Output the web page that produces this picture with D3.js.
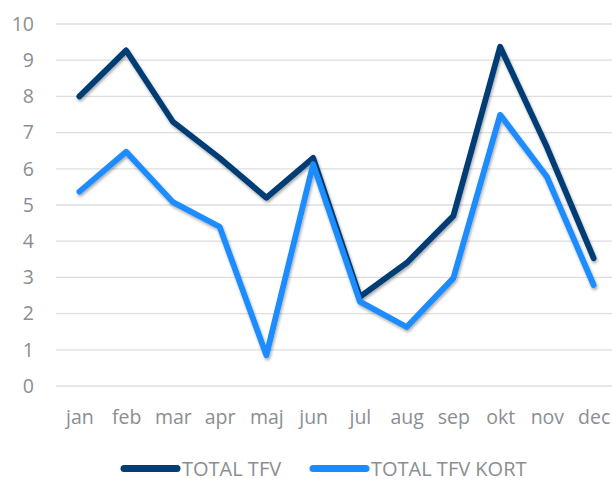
<!DOCTYPE html>
<html>
<head>
<meta charset="utf-8">
<script src="https://cdn.jsdelivr.net/npm/d3@7"></script>
<style>
  body { margin: 0; background: #fff; }
  svg { display: block; }
</style>
</head>
<body>
<div id="chart"></div>
<script>
const months = ["jan", "feb", "mar", "apr", "maj", "jun", "jul", "aug", "sep", "okt", "nov", "dec"];
const totalTfv = [8.0, 9.27, 7.3, 6.3, 5.2, 6.3, 2.46, 3.4, 4.7, 9.37, 6.6, 3.53];
const totalTfvKort = [5.37, 6.47, 5.08, 4.4, 0.85, 6.13, 2.33, 1.63, 2.98, 7.49, 5.78, 2.79];
const yTicks = [0, 1, 2, 3, 4, 5, 6, 7, 8, 9, 10];
const seriesNames = ["TOTAL TFV", "TOTAL TFV KORT"];
const seriesColors = ["#033d75", "#1a8cff"];

const width = 612, height = 481;
const margin = { top: 24, left: 56, bottom: 95 };
const plotW = 561; // runs off the right edge like the source
const plotH = height - margin.top - margin.bottom;
const labelFont = "'Open Sans', sans-serif";
const labelColor = "#8b8e92";

const svg = d3.select("#chart")
  .append("svg")
  .attr("width", width)
  .attr("height", height);

const defs = svg.append("defs");
const shadow = defs.append("filter")
  .attr("id", "shadow")
  .attr("x", "-10%").attr("y", "-10%")
  .attr("width", "120%").attr("height", "130%");
shadow.append("feDropShadow")
  .attr("dx", 1).attr("dy", 2)
  .attr("stdDeviation", 1.6)
  .attr("flood-color", "#000")
  .attr("flood-opacity", 0.35);

const x = d3.scalePoint()
  .domain(months)
  .range([margin.left, margin.left + plotW])
  .padding(0.5);

const y = d3.scaleLinear()
  .domain([0, 10])
  .range([margin.top + plotH, margin.top]);

// gridlines
svg.append("g")
  .selectAll("line")
  .data(yTicks)
  .join("line")
  .attr("x1", margin.left)
  .attr("x2", margin.left + plotW)
  .attr("y1", (d) => y(d))
  .attr("y2", (d) => y(d))
  .attr("stroke", "#dedede")
  .attr("stroke-width", 1.3);

// y axis labels
const yAxis = svg.append("g")
  .attr("transform", `translate(${margin.left - 22},0)`)
  .call(d3.axisLeft(y).tickValues(yTicks).tickSize(0).tickPadding(0));
yAxis.select(".domain").remove();
yAxis.selectAll("text")
  .attr("font-family", labelFont)
  .attr("font-size", 19.5)
  .attr("fill", labelColor);

// x axis labels
const xAxis = svg.append("g")
  .attr("transform", `translate(0,${margin.top + plotH + 24})`)
  .call(d3.axisBottom(x).tickSize(0).tickPadding(0));
xAxis.select(".domain").remove();
xAxis.selectAll("text")
  .attr("font-family", labelFont)
  .attr("font-size", 19.5)
  .attr("fill", labelColor);

const line = d3.line()
  .x((d, i) => x(months[i]))
  .y((d) => y(d));

const series = [totalTfv, totalTfvKort];

svg.append("g")
  .selectAll("path")
  .data(series)
  .join("path")
  .attr("d", (d) => line(d))
  .attr("fill", "none")
  .attr("stroke", (d, i) => seriesColors[i])
  .attr("stroke-width", 5.8)
  .attr("stroke-linejoin", "round")
  .attr("stroke-linecap", "round")
  .attr("filter", "url(#shadow)");

// legend - nudged up a little so the text box stays inside the frame
const legendY = 468.5;
const legendX = [122, 311];
const legend = svg.append("g")
  .selectAll("g")
  .data(seriesNames)
  .join("g")
  .attr("transform", (d, i) => `translate(${legendX[i]},${legendY})`);

legend.append("line")
  .attr("x1", 2).attr("x2", 55)
  .attr("stroke", (d, i) => seriesColors[i])
  .attr("stroke-width", 7)
  .attr("stroke-linecap", "round");

legend.append("text")
  .attr("x", 60)
  .attr("y", 7)
  .attr("font-family", labelFont)
  .attr("font-size", 20)
  .attr("fill", labelColor)
  .text((d) => d);
</script>
</body>
</html>
